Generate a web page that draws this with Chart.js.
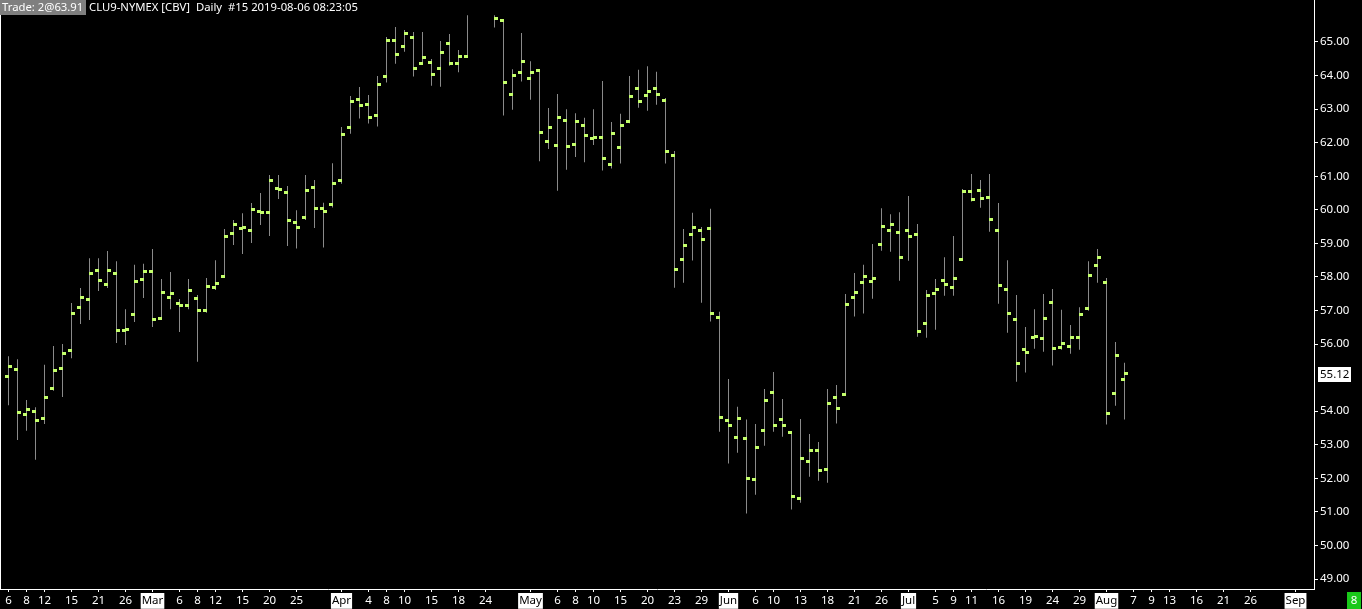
<!DOCTYPE html>
<html><head><meta charset="utf-8">
<style>html,body{margin:0;padding:0;background:#000;overflow:hidden}canvas{display:block}</style>
<script src="https://cdn.jsdelivr.net/npm/chart.js@4.4.1/dist/chart.umd.min.js"></script>
</head><body>
<canvas id="c" width="1362" height="609"></canvas>
<script>
// ---- data (bar slot index = trading day from 2019-02-06) ----
const highs = [55.64,55.55,54.33,54.12,55.38,55.94,56.00,57.22,57.67,58.56,58.56,58.77,58.47,57.04,58.36,58.39,58.83,57.94,58.15,57.34,
57.94,57.46,57.97,58.50,59.43,59.70,59.90,60.20,60.50,61.04,61.04,60.71,59.99,61.04,60.89,60.21,61.39,62.47,63.39,63.66,
63.42,63.99,65.15,65.45,65.36,65.30,65.30,64.49,65.03,65.24,64.76,65.80,null,null,65.80,65.65,64.19,65.27,64.43,64.19,
63.03,63.45,63.00,62.88,62.74,63.00,63.84,62.62,62.86,63.99,64.17,64.28,64.11,63.33,61.75,59.43,59.91,59.49,60.03,56.96,
54.96,54.13,53.75,53.62,54.66,55.17,54.36,53.37,53.77,53.32,53.08,54.66,54.78,57.49,58.12,58.36,58.98,60.05,59.87,59.93,
60.41,59.58,57.61,57.94,58.59,59.22,60.62,61.07,60.89,61.07,60.20,58.50,57.46,56.51,57.04,57.49,57.64,57.02,56.57,57.10,
58.47,58.83,57.97,56.06,55.44];
const lows = [54.18,53.14,53.42,52.55,53.62,54.61,54.42,55.58,56.60,56.72,57.58,57.67,56.03,55.97,56.66,57.37,56.51,56.75,57.04,56.36,
57.04,55.47,56.93,57.61,58.00,58.95,58.68,59.01,59.55,59.22,60.32,58.92,58.85,59.70,59.46,58.88,60.07,60.78,62.27,62.72,
62.57,62.48,63.79,64.35,64.71,63.97,64.32,63.70,63.67,64.29,64.10,64.54,null,null,65.43,62.81,62.98,63.82,63.28,61.45,
61.81,60.57,61.19,61.57,61.42,61.93,61.17,61.23,61.38,62.58,63.04,62.95,63.13,61.38,57.68,57.83,58.49,57.23,56.67,53.39,
52.44,52.76,50.95,51.51,52.97,53.39,53.24,51.07,51.27,52.05,51.93,51.87,53.63,54.48,56.82,56.91,57.35,58.78,58.75,57.89,
58.48,56.22,56.19,56.43,57.44,57.44,58.52,60.25,60.06,59.35,57.20,56.34,54.88,55.15,55.86,55.77,55.36,55.83,55.71,55.83,
56.99,57.83,53.60,54.16,53.75];
const opens = [55.04,55.25,53.91,54.00,53.79,54.68,55.28,55.81,57.09,57.33,58.20,57.78,58.11,56.41,56.89,57.93,58.17,56.77,57.39,57.21,
57.15,57.36,57.00,57.69,58.02,59.30,59.45,59.39,59.95,59.92,60.64,60.52,59.63,59.78,60.67,60.04,60.16,60.88,62.46,63.29,
63.14,62.82,63.98,65.05,64.87,65.14,64.36,64.39,64.22,64.96,64.36,64.57,null,null,null,65.65,63.44,64.10,63.92,64.14,
62.04,61.92,62.67,61.95,62.52,62.13,62.16,61.36,61.86,62.64,63.62,63.41,63.62,63.26,61.62,58.53,59.27,59.39,59.45,56.80,
53.73,53.22,53.19,51.97,53.43,54.56,53.76,53.37,51.40,52.51,52.83,52.27,54.41,54.50,57.39,57.84,57.87,58.97,59.39,59.33,
59.39,59.27,56.62,57.51,57.90,57.69,58.52,60.55,60.58,60.37,59.39,57.63,56.74,55.84,56.20,56.17,57.24,55.90,55.93,56.20,
57.06,58.35,57.84,54.53,54.95];
const closes = [55.34,53.97,54.06,53.73,54.41,55.22,55.72,56.92,57.39,58.11,57.90,58.20,56.41,56.44,57.87,58.17,56.74,57.54,57.51,57.15,
57.60,57.00,57.72,57.81,59.21,59.57,59.48,60.01,59.92,60.88,60.61,59.69,59.48,60.58,60.04,59.95,60.79,62.25,63.23,63.11,
62.75,63.74,65.05,64.63,65.26,64.22,64.54,64.04,64.69,64.36,64.57,null,null,null,65.70,63.80,64.01,64.42,64.10,62.31,
62.46,62.75,61.89,62.64,62.22,62.16,61.53,62.28,62.52,63.38,63.23,63.53,63.44,61.74,58.23,58.94,59.48,59.12,56.92,53.82,
53.58,53.79,52.00,52.92,54.32,53.58,53.58,51.46,52.60,52.83,52.24,54.23,54.09,57.18,57.54,58.02,57.96,59.51,59.57,58.58,
59.21,56.38,57.45,57.63,57.78,57.96,60.55,60.31,60.34,59.72,57.75,56.92,55.43,55.75,56.23,56.77,55.87,56.02,56.20,56.89,
58.05,58.58,53.94,55.66,55.12];
const tickPositions = [0,2,4,7,10,13,16,19,21,23,26,29,32,37,40,42,44,47,50,53,58,61,63,65,68,71,74,77,80,83,85,88,91,94,97,
100,103,105,107,110,113,116,119,122,125,127,129,132,135,138,143];
const tickLabels = ['6','8','12','15','21','26','Mar','6','8','12','15','20','25','Apr','4','8','10','15','18','24','May','6','8','10','15','20','23','29','Jun','6','10','13','18','21','26',
'Jul','5','9','11','16','19','24','29','Aug','7','9','13','16','21','26','Sep'];
const monthLabels = ['Mar','Apr','May','Jun','Jul','Aug','Sep'];
const yTicks = [49,50,51,52,53,54,56,57,58,59,60,61,62,63,64,65];
const titleBadge = 'Trade: 2@63.91';
const titleText = 'CLU9-NYMEX [CBV]  Daily  #15 2019-08-06 08:23:05';
const lastPrice = 55.12;
const cornerBadge = '8';

// ---- styles ----
const GREEN = '#c4ff6c', GREY = '#8a8a8a', FONT = '"Noto Sans", "Liberation Sans", sans-serif';
function markCanvas(side) {
  const cv = document.createElement('canvas'); cv.width = 9; cv.height = 3;
  const g = cv.getContext('2d'); g.fillStyle = GREEN;
  g.fillRect(side === 'open' ? 1 : 4, 0, 4, 3);
  return cv;
}
const rangeData = [], openData = [], closeData = [];
highs.forEach((h, i) => {
  if (h !== null && lows[i] !== null) rangeData.push({x: i, y: [lows[i], h]});
  if (opens[i] !== null) openData.push({x: i, y: opens[i]});
  if (closes[i] !== null) closeData.push({x: i, y: closes[i]});
});

const PX = 9, X0 = 8.5, PLOT_W = 1314, PLOT_H = 589;
const xMin = -X0 / PX, xMax = (PLOT_W - X0) / PX;
const pxPerUnit = (579 - 42) / 16;
const yMax = 65 + 42 / pxPerUnit, yMin = 49 - (PLOT_H - 579) / pxPerUnit;
function noPad(s) { s.paddingTop = 0; s.paddingBottom = 0; s.paddingLeft = 0; s.paddingRight = 0; }

const decor = {
  id: 'decor',
  beforeDatasetsDraw(chart) { chart.ctx.imageSmoothingEnabled = false; },
  afterDraw(chart) {
    const ctx = chart.ctx, ca = chart.chartArea, ya = chart.scales.y;
    ctx.save();
    ctx.fillStyle = '#ffffff';
    ctx.fillRect(ca.left, ca.top, 1, ca.bottom - ca.top);
    ctx.font = '11.3px ' + FONT; ctx.textBaseline = 'middle'; ctx.textAlign = 'left';
    const w = ctx.measureText(titleBadge).width;
    ctx.fillStyle = '#7f7f7f'; ctx.fillRect(0, 0, Math.round(w + 5), 15);
    ctx.fillStyle = '#ffffff'; ctx.fillText(titleBadge, 2, 8);
    ctx.fillText(titleText, Math.round(w + 8), 8);
    const py = Math.round(ya.getPixelForValue(lastPrice));
    ctx.font = '11.5px ' + FONT;
    const lbl = lastPrice.toFixed(2);
    const lw = ctx.measureText(lbl).width;
    ctx.fillStyle = '#ffffff'; ctx.fillRect(ca.right + 4, py - 7, Math.round(lw + 4), 15);
    ctx.fillStyle = '#000000'; ctx.fillText(lbl, ca.right + 6, py + 1);
    ctx.fillStyle = '#19c819'; ctx.fillRect(1347, 592, 14, 17);
    ctx.fillStyle = '#ffffff'; ctx.textAlign = 'center'; ctx.fillText(cornerBadge, 1354, 601);
    ctx.restore();
  }
};

new Chart(document.getElementById('c'), {
  type: 'bar',
  data: {
    datasets: [
      {type: 'bar', data: rangeData, backgroundColor: GREY, borderWidth: 0, barThickness: 1, inflateAmount: 0, order: 3},
      {type: 'scatter', data: openData, pointStyle: markCanvas('open'), pointRadius: 2, order: 1},
      {type: 'scatter', data: closeData, pointStyle: markCanvas('close'), pointRadius: 2, order: 2}
    ]
  },
  options: {
    responsive: false, animation: false, devicePixelRatio: 1,
    layout: {padding: 0, autoPadding: false},
    plugins: {legend: {display: false}, tooltip: {enabled: false}},
    events: [],
    scales: {
      x: {
        type: 'linear', position: 'bottom', min: xMin, max: xMax, offset: false,
        afterBuildTicks(s) { s.ticks = tickPositions.map(v => ({value: v})); },
        afterFit(s) { s.height = 609 - PLOT_H; noPad(s); },
        grid: {display: true, drawOnChartArea: false, drawTicks: true, tickLength: 3, color: '#ffffff', offset: false},
        border: {display: true, color: '#ffffff', width: 1},
        ticks: {
          autoSkip: false, maxRotation: 0, minRotation: 0, padding: 2,
          callback: (v, i) => tickLabels[i],
          font: {family: FONT, size: 11.5},
          color: ctx => monthLabels.includes(tickLabels[ctx.index]) ? '#000000' : '#ffffff',
          showLabelBackdrop: ctx => monthLabels.includes(tickLabels[ctx.index]),
          backdropColor: '#ffffff',
          backdropPadding: {top: 1, bottom: 1, left: 1, right: 1}
        }
      },
      y: {
        type: 'linear', position: 'right', min: yMin, max: yMax,
        afterBuildTicks(s) { s.ticks = yTicks.map(v => ({value: v})); },
        afterFit(s) { s.width = 1362 - PLOT_W; noPad(s); },
        grid: {display: true, drawOnChartArea: false, drawTicks: true, tickLength: 4, color: '#ffffff'},
        border: {display: true, color: '#ffffff', width: 1},
        ticks: {padding: 2, callback: v => Number(v).toFixed(2), font: {family: FONT, size: 11.5}, color: '#ffffff'}
      }
    }
  },
  plugins: [decor]
});
</script>
</body></html>
